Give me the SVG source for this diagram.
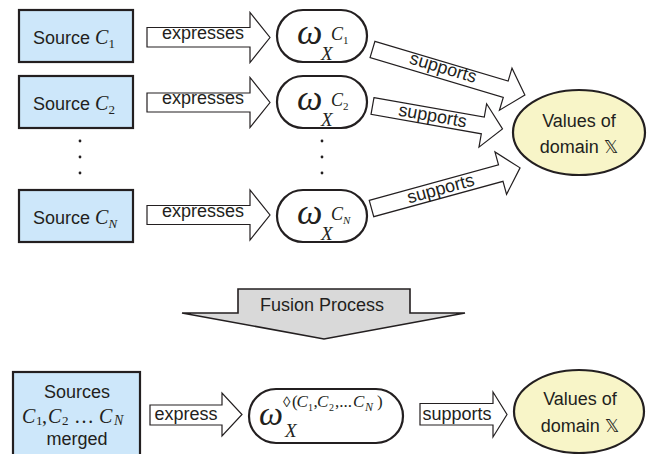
<svg xmlns="http://www.w3.org/2000/svg" width="648" height="454" viewBox="0 0 648 454">
<style>
.src{fill:#cde7fa;stroke:#231f20;stroke-width:2.2}
.om{fill:#ffffff;stroke:#231f20;stroke-width:2.2}
.val{fill:#f8f5c8;stroke:#231f20;stroke-width:2.2}
.arr{fill:#ffffff;stroke:#231f20;stroke-width:1.2;stroke-linejoin:miter}
.fus{fill:#d9d9d9;stroke:#231f20;stroke-width:1.6}
.t{font-family:"Liberation Sans",Arial,sans-serif;font-size:18px;fill:#231f20}
.m{font-family:"Liberation Serif","Times New Roman",serif;font-style:italic;fill:#231f20}
.r{font-family:"Liberation Serif","Times New Roman",serif;font-style:normal;fill:#231f20}
.bb{font-family:"DejaVu Sans","DejaVu Serif",sans-serif;font-weight:normal}
.dot{fill:#231f20}
</style>

<g id="source1">
<rect class="src" x="19" y="10" width="114" height="52"/>
<text class="t" x="33" y="44" font-size="17.5">Source <tspan class="m" font-size="20">C</tspan><tspan class="r" font-size="13" dy="4">1</tspan></text>
</g>
<g id="source2">
<rect class="src" x="19" y="76" width="114" height="52"/>
<text class="t" x="33" y="110" font-size="17.5">Source <tspan class="m" font-size="20">C</tspan><tspan class="r" font-size="13" dy="4">2</tspan></text>
</g>
<g id="sourceN">
<rect class="src" x="19" y="190" width="114" height="52"/>
<text class="t" x="33" y="224" font-size="17.5">Source <tspan class="m" font-size="20">C</tspan><tspan class="m" font-size="13" dy="4">N</tspan></text>
</g>
<g id="dots-left">
<circle class="dot" cx="80" cy="141" r="1.4"/>
<circle class="dot" cx="80" cy="157" r="1.4"/>
<circle class="dot" cx="80" cy="173" r="1.4"/>
</g>

<g id="opinion1">
<rect class="om" x="277" y="10" width="90" height="52" rx="26" ry="26"/>
<text class="m" x="297" y="44" font-size="36">ω</text>
<text class="m" x="321" y="60" font-size="19">X</text>
<text class="m" x="331" y="40" font-size="18">C</text>
<text class="r" x="343" y="44" font-size="11">1</text>
</g>
<g id="opinion2">
<rect class="om" x="277" y="76" width="90" height="52" rx="26" ry="26"/>
<text class="m" x="297" y="110" font-size="36">ω</text>
<text class="m" x="321" y="126" font-size="19">X</text>
<text class="m" x="331" y="106" font-size="18">C</text>
<text class="r" x="343" y="110" font-size="11">2</text>
</g>
<g id="opinionN">
<rect class="om" x="277" y="190" width="90" height="52" rx="26" ry="26"/>
<text class="m" x="297" y="224" font-size="36">ω</text>
<text class="m" x="321" y="240" font-size="19">X</text>
<text class="m" x="331" y="220" font-size="18">C</text>
<text class="m" x="343" y="224" font-size="11">N</text>
</g>
<g id="dots-mid">
<circle class="dot" cx="322" cy="141" r="1.4"/>
<circle class="dot" cx="322" cy="157" r="1.4"/>
<circle class="dot" cx="322" cy="173" r="1.4"/>
</g>

<g id="values-top">
<ellipse class="val" cx="579" cy="132.5" rx="66" ry="42.5"/>
<text class="t" x="579" y="127" text-anchor="middle">Values of</text>
<text class="t" x="579" y="153" text-anchor="middle">domain <tspan class="bb">𝕏</tspan></text>
</g>

<g id="fusion">
<path class="fus" d="M238,289 H410 V313 H465 L324,339 L182,313 H238 Z"/>
<text class="t" x="322" y="311" text-anchor="middle" font-size="18.5">Fusion Process</text>
</g>

<g id="sources-merged">
<rect class="src" x="13" y="372" width="127" height="100"/>
<text class="t" x="77" y="398" text-anchor="middle">Sources</text>
<text class="m" x="22" y="423" font-size="20">C</text>
<text class="r" x="36" y="425" font-size="13">1</text>
<text class="r" x="42" y="423" font-size="20">,</text>
<text class="m" x="48" y="423" font-size="20">C</text>
<text class="r" x="62" y="425" font-size="13">2</text>
<text class="r" x="74" y="423" font-size="20">…</text>
<text class="m" x="99" y="423" font-size="20">C</text>
<text class="m" x="114" y="425" font-size="14">N</text>
<text class="t" x="77" y="445" text-anchor="middle">merged</text>
</g>

<g id="opinion-fused">
<rect class="om" x="249" y="389" width="154" height="54" rx="27" ry="27"/>
<text class="m" x="259" y="425" font-size="34">ω</text>
<text class="m" x="285" y="437" font-size="19">X</text>
<text class="r" x="283" y="407" font-size="15">◊</text>
<text class="r" x="292" y="407" font-size="17">(</text>
<text class="m" x="296.5" y="407" font-size="17">C</text>
<text class="r" x="308" y="411" font-size="10">1</text>
<text class="r" x="313.5" y="407" font-size="17">,</text>
<text class="m" x="317" y="407" font-size="17">C</text>
<text class="r" x="329" y="411" font-size="10">2</text>
<text class="r" x="335" y="407" font-size="17">,...</text>
<text class="m" x="353" y="407" font-size="17">C</text>
<text class="m" x="365" y="411" font-size="12">N</text>
<text class="r" x="377" y="407" font-size="17">)</text>
</g>

<g id="values-bottom">
<ellipse class="val" cx="579" cy="411.5" rx="65" ry="41.5"/>
<text class="t" x="580" y="405" text-anchor="middle">Values of</text>
<text class="t" x="580" y="432" text-anchor="middle">domain <tspan class="bb">𝕏</tspan></text>
</g>

<g id="connectors">
<path class="arr" d="M147,27.5 H250 V12.5 L270,37.5 L250,62.5 V47 H147 Z"/>
<text class="t" x="162" y="38.5">expresses</text>
<path class="arr" d="M147,93 H250 V77.5 L270,102.5 L250,127.5 V112 H147 Z"/>
<text class="t" x="162" y="104">expresses</text>
<path class="arr" d="M147,205.5 H250 V190 L270,215 L250,240 V224.5 H147 Z"/>
<text class="t" x="162" y="216.5">expresses</text>

<g transform="translate(372.5,49.5) rotate(16.6)">
<path class="arr" d="M0,-8.5 H139 V-22 L159,0 L139,22 V8.5 H0 Z"/>
<text class="t" x="73" y="3" text-anchor="middle">supports</text>
</g>
<g transform="translate(372.5,106) rotate(10)">
<path class="arr" d="M0,-8.5 H112 V-22 L132,0 L112,22 V8.5 H0 Z"/>
<text class="t" x="61" y="5" text-anchor="middle">supports</text>
</g>
<g transform="translate(371.5,208.5) rotate(-15.3)">
<path class="arr" d="M0,-8.5 H134 V-22 L154,0 L134,22 V8.5 H0 Z"/>
<text class="t" x="72" y="5" text-anchor="middle">supports</text>
</g>

<path class="arr" d="M150,405 H222 V393 L242,414.5 L222,436 V425 H150 Z"/>
<text class="t" x="186" y="420" text-anchor="middle">express</text>
<path class="arr" d="M420,403.5 H493 V392 L507,414.5 L493,437 V425 H420 Z"/>
<text class="t" x="457" y="420" text-anchor="middle">supports</text>
</g>
</svg>
